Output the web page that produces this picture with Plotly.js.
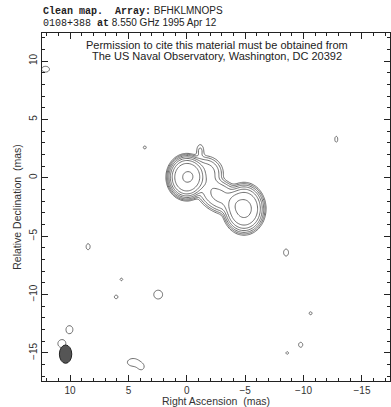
<!DOCTYPE html>
<html>
<head>
<meta charset="utf-8">
<script src="https://cdn.plot.ly/plotly-3.0.1.min.js"></script>
<style>html,body{margin:0;padding:0;background:#fff;}#plot{width:391px;height:407px;}</style>
</head>
<body>
<div id="plot"></div>
<script>
// ---- Source model components (RA, Dec in mas; amplitude in units of lowest contour) ----
const compRA    = [0.00, -4.90, -2.80, -1.50, -1.15];
const compDec   = [0.05, -2.65, -1.55, 0.40, 2.30];
const compAmp   = [130, 70, 18, 12, 2.5];
const compSigX  = [1.14, 1.25, 1.60, 1.20, 0.22];   // along angle
const compSigY  = [1.30, 1.50, 1.00, 1.10, 0.40];   // across angle
const compAngle = [0, 0, 30, 0, 0];                 // degrees
const compShape = [3.5, 3.5, 3, 3, 2];              // profile exponent

// ---- Isolated low-level islands (noise features) ----
const blobRA   = [12.1, 3.6, -12.8, 8.45, 5.6, 6.05, 2.45, -8.5, -10.6, -9.75, -8.6, 10.05, 10.7, 4.6, 3.9];
const blobDec  = [9.3, 2.6, 3.3, -5.9, -8.7, -10.2, -10.0, -6.4, -11.6, -14.3, -15.0, -13.0, -14.2, -15.8, -16.2];
const blobAmp  = [1.5, 1.1, 1.3, 1.3, 1.08, 1.15, 1.5, 1.2, 1.1, 1.3, 1.08, 1.5, 1.5, 1.8, 1.3];
const blobSigX = [0.38, 0.3, 0.18, 0.24, 0.3, 0.3, 0.42, 0.35, 0.3, 0.25, 0.3, 0.33, 0.38, 0.45, 0.3];
const blobSigY = [0.28, 0.3, 0.36, 0.36, 0.3, 0.3, 0.42, 0.5, 0.3, 0.3, 0.3, 0.38, 0.38, 0.3, 0.3];

// ---- Contour levels (log2 of multiples of lowest contour) ----
const contourLevels = [0, 1, 2, 3, 4, 5, 6, 7];

// ---- Restoring beam ----
const beamRA = 10.38, beamDec = -15.1, beamWidth = 1.06, beamHeight = 1.57;

// ---- Axes ----
const xRange = [12.4, -17.4];
const yRange = [-17.4, 12.4];
const tickValues = [-15, -10, -5, 0, 5, 10];

// ---- Build grid ----
const step = 0.1;
const xs = [], ys = [];
for (let v = -17.5; v <= 12.55; v += step) xs.push(+v.toFixed(3));
for (let v = -17.5; v <= 12.55; v += step) ys.push(+v.toFixed(3));
const allRA = compRA.concat(blobRA), allDec = compDec.concat(blobDec);
const allAmp = compAmp.concat(blobAmp), allSX = compSigX.concat(blobSigX), allSY = compSigY.concat(blobSigY);
const allAng = compAngle.concat(blobRA.map(() => 0));
const allP = compShape.concat(blobRA.map(() => 2));
const z = ys.map(y => xs.map(x => {
  let f = 0;
  for (let k = 0; k < allRA.length; k++) {
    const a = allAng[k] * Math.PI / 180, c = Math.cos(a), s = Math.sin(a);
    const ux = x - allRA[k], uy = y - allDec[k];
    const dx = (ux * c + uy * s) / allSX[k], dy = (-ux * s + uy * c) / allSY[k];
    const r2 = dx*dx + dy*dy;
    const e = allP[k] === 2 ? r2 / 2 : Math.pow(r2, allP[k] / 2);
    f += allAmp[k] * Math.exp(-e);
  }
  return Math.log2(Math.max(f, 1e-4));
}));

const trace = {
  type: 'contour', x: xs, y: ys, z: z,
  showscale: false, hoverinfo: 'skip',
  contours: {coloring: 'none', start: contourLevels[0], end: contourLevels[contourLevels.length-1], size: 1},
  line: {color: '#4a4a4a', width: 0.8, smoothing: 1}
};

const axisCommon = {
  showgrid: false, zeroline: false, showline: true, linecolor: '#222', linewidth: 1,
  mirror: 'ticks', ticks: 'inside', ticklen: 6, tickcolor: '#222', tickwidth: 1,
  tickvals: tickValues, tickfont: {family: 'Liberation Sans, Arial', size: 10, color: '#333'},
  minor: {dtick: 1, ticks: 'inside', ticklen: 3, tickcolor: '#222', tickwidth: 1}
};

const layout = {
  width: 391, height: 407,
  margin: {l: 42, r: 1, t: 33, b: 26},
  paper_bgcolor: '#fff', plot_bgcolor: '#fff',
  showlegend: false,
  xaxis: Object.assign({}, axisCommon, {range: xRange,
    title: {text: 'Right Ascension  (mas)', font: {family: 'Liberation Sans, Arial', size: 10.5, color: '#333'}, standoff: 1}}),
  yaxis: Object.assign({}, axisCommon, {range: yRange, tickangle: -90,
    title: {text: 'Relative Declination  (mas)', font: {family: 'Liberation Sans, Arial', size: 10.5, color: '#333'}, standoff: 4}}),
  shapes: [{
    type: 'circle', xref: 'x', yref: 'y',
    x0: beamRA - beamWidth/2, x1: beamRA + beamWidth/2,
    y0: beamDec - beamHeight/2, y1: beamDec + beamHeight/2,
    fillcolor: '#555', line: {color: '#222', width: 1}
  }],
  annotations: [
    {xref: 'paper', yref: 'paper', x: -0.003, y: 1.062, xanchor: 'left', yanchor: 'middle', showarrow: false,
     text: '<span style="font-family:Liberation Mono"><b>Clean map.  Array:</b></span> BFHKLMNOPS',
     font: {family: 'Liberation Sans, Arial', size: 10, color: '#222'}},
    {xref: 'paper', yref: 'paper', x: -0.003, y: 1.028, xanchor: 'left', yanchor: 'middle', showarrow: false,
     text: '<span style="font-family:Liberation Mono">0108+388 <b>at</b></span> 8.550 GHz 1995 Apr 12',
     font: {family: 'Liberation Sans, Arial', size: 10, color: '#222'}},
    {xref: 'paper', yref: 'paper', x: 0.502, y: 0.965, xanchor: 'center', yanchor: 'middle', showarrow: false,
     text: 'Permission to cite this material must be obtained from',
     font: {family: 'Liberation Sans, Arial', size: 11, color: '#222'}},
    {xref: 'paper', yref: 'paper', x: 0.502, y: 0.933, xanchor: 'center', yanchor: 'middle', showarrow: false,
     text: 'The US Naval Observatory, Washington, DC 20392',
     font: {family: 'Liberation Sans, Arial', size: 11, color: '#222'}}
  ]
};

Plotly.newPlot('plot', [trace], layout, {staticPlot: true, displayModeBar: false});
</script>
</body>
</html>
